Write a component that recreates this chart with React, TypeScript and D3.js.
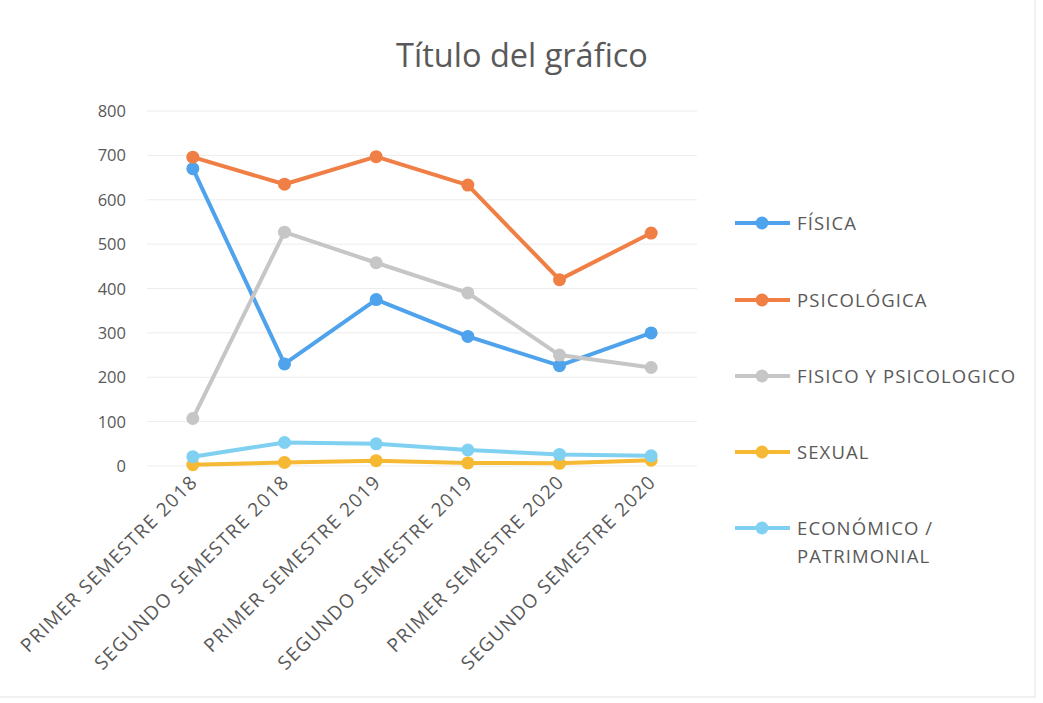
import React, { useEffect, useRef } from 'react';
import * as d3 from 'd3';

const categories = [
  'PRIMER SEMESTRE 2018',
  'SEGUNDO SEMESTRE 2018',
  'PRIMER SEMESTRE 2019',
  'SEGUNDO SEMESTRE 2019',
  'PRIMER SEMESTRE 2020',
  'SEGUNDO SEMESTRE 2020',
];
const fisica = [670, 230, 375, 292, 226, 300];
const psicologica = [696, 635, 697, 633, 420, 525];
const fisicoPsico = [107, 527, 458, 390, 250, 222];
const sexual = [3, 8, 12, 7, 6, 13];
const economico = [21, 53, 50, 36, 26, 23];
const yTicks = [0, 100, 200, 300, 400, 500, 600, 700, 800];

const seriesNames = ['FÍSICA', 'PSICOLÓGICA', 'FISICO Y PSICOLOGICO', 'SEXUAL', 'ECONÓMICO / PATRIMONIAL'];
const seriesValues = [fisica, psicologica, fisicoPsico, sexual, economico];
const colors = ['#4fa2ec', '#f07f45', '#c6c6c6', '#f6b934', '#80d0f2'];

const W = 1043;
const H = 703;
const font = "'Open Sans', 'Liberation Sans', sans-serif";

export default function App() {
  const svgRef = useRef<SVGSVGElement>(null);

  useEffect(() => {
    const svg = d3.select(svgRef.current);
    svg.selectAll('*').remove();

    const x = d3.scaleBand().domain(categories).range([147, 697]);
    const y = d3.scaleLinear().domain([0, 800]).range([466, 111]);
    const cx = (c: string) => (x(c) as number) + x.bandwidth() / 2;

    svg.append('rect').attr('width', W).attr('height', H).attr('fill', '#fff');

    // title
    svg.append('text')
      .attr('x', 522).attr('y', 67)
      .attr('text-anchor', 'middle')
      .attr('font-family', font).attr('font-size', 32.5)
      .attr('fill', '#595959')
      .text('Título del gráfico');

    // gridlines + y labels
    const yAxis = svg.append('g');
    yAxis.selectAll('line').data(yTicks).join('line')
      .attr('x1', 147).attr('x2', 697)
      .attr('y1', d => y(d)).attr('y2', d => y(d))
      .attr('stroke', '#ececec').attr('stroke-width', 1);
    yAxis.selectAll('text').data(yTicks).join('text')
      .attr('x', 126).attr('y', d => y(d) + 6)
      .attr('text-anchor', 'end')
      .attr('font-family', font).attr('font-size', 16.5)
      .attr('fill', '#595959')
      .text(d => d);

    // x labels
    svg.append('g').selectAll('text').data(categories).join('text')
      .attr('transform', d => `translate(${cx(d) + 6},${483}) rotate(-45)`)
      .attr('text-anchor', 'end')
      .attr('font-family', font).attr('font-size', 19)
      .attr('letter-spacing', 1.4)
      .attr('fill', '#595959')
      .text(d => d);

    const lineGen = d3.line<number>()
      .x((_, i) => cx(categories[i]))
      .y(d => y(d));

    seriesValues.forEach((vals, si) => {
      const g = svg.append('g');
      g.append('path')
        .attr('d', lineGen(vals))
        .attr('fill', 'none')
        .attr('stroke', colors[si])
        .attr('stroke-width', 4)
        .attr('stroke-linejoin', 'round');
      g.selectAll('circle').data(vals).join('circle')
        .attr('cx', (_, i) => cx(categories[i]))
        .attr('cy', d => y(d))
        .attr('r', 6.5)
        .attr('fill', colors[si]);
    });

    // legend
    const legendY = [223, 300, 376, 452, 528];
    seriesNames.forEach((name, i) => {
      const g = svg.append('g').attr('transform', `translate(0,${legendY[i]})`);
      g.append('line').attr('x1', 735).attr('x2', 790).attr('y1', 0).attr('y2', 0)
        .attr('stroke', colors[i]).attr('stroke-width', 4);
      g.append('circle').attr('cx', 762).attr('cy', 0).attr('r', 6.5).attr('fill', colors[i]);
      const t = g.append('text')
        .attr('x', 797).attr('y', 7)
        .attr('font-family', font).attr('font-size', 18.5)
        .attr('letter-spacing', 1.1)
        .attr('fill', '#595959');
      if (name.includes('/')) {
        t.append('tspan').attr('x', 797).attr('dy', 0).text('ECONÓMICO /');
        t.append('tspan').attr('x', 797).attr('dy', 28).text('PATRIMONIAL');
      } else {
        t.text(name);
      }
    });

    // faint scan border
    svg.append('line').attr('x1', 1035).attr('x2', 1035).attr('y1', 0).attr('y2', 697)
      .attr('stroke', '#e4e4e4');
    svg.append('line').attr('x1', 0).attr('x2', 1035).attr('y1', 697).attr('y2', 697)
      .attr('stroke', '#e4e4e4');
  }, []);

  return (
    <svg ref={svgRef} width={W} height={H}
      style={{ position: 'absolute', left: 0, top: 0, display: 'block' }} />
  );
}
